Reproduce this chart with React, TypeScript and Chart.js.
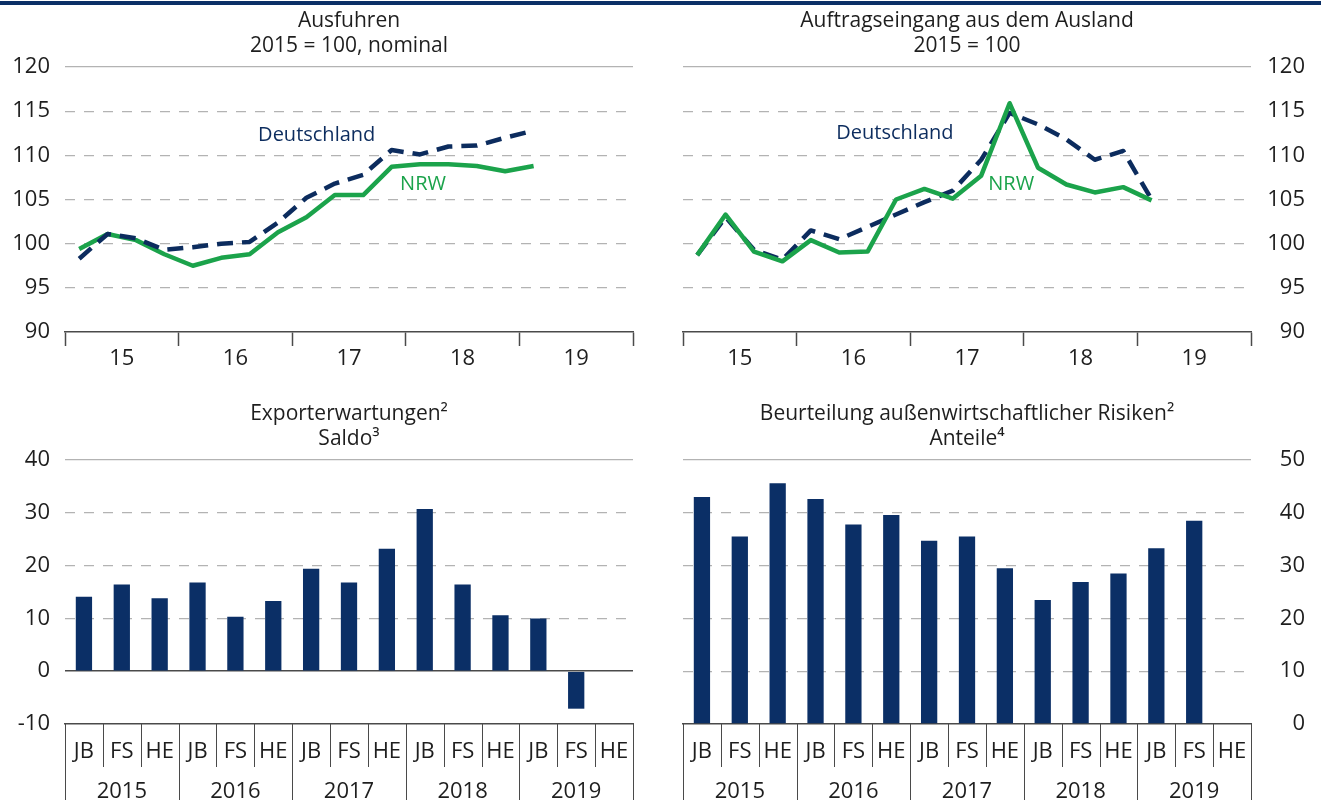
import React, { useEffect, useRef } from 'react';
import { Chart, registerables } from 'chart.js';

Chart.register(...registerables);

// ---------- data ----------
const quarters = [
  '2015 Q1', '2015 Q2', '2015 Q3', '2015 Q4',
  '2016 Q1', '2016 Q2', '2016 Q3', '2016 Q4',
  '2017 Q1', '2017 Q2', '2017 Q3', '2017 Q4',
  '2018 Q1', '2018 Q2', '2018 Q3', '2018 Q4',
  '2019 Q1',
];
const yearTicks = ['15', '16', '17', '18', '19'];

const ausfuhrenDE = [98.3, 101.1, 100.6, 99.3, 99.6, 100.0, 100.2, 102.4, 105.2, 106.8, 107.8, 110.6, 110.1, 111.0, 111.1, 112.0, 112.8];
const ausfuhrenNRW = [99.4, 101.1, 100.4, 98.8, 97.5, 98.4, 98.8, 101.3, 103.0, 105.5, 105.5, 108.7, 109.0, 109.0, 108.8, 108.2, 108.8];

const auftragDE = [98.7, 103.0, 99.3, 98.2, 101.5, 100.5, 101.9, 103.3, 104.7, 106.0, 109.5, 114.8, 113.5, 111.8, 109.5, 110.5, 105.0];
const auftragNRW = [98.7, 103.3, 99.1, 98.0, 100.4, 99.0, 99.1, 105.0, 106.2, 105.1, 107.7, 115.9, 108.6, 106.7, 105.8, 106.4, 104.9];

const halfYears = ['JB', 'FS', 'HE'];
const years = ['2015', '2016', '2017', '2018', '2019'];
const exportErwartungen = [14.1, 16.4, 13.8, 16.8, 10.3, 13.3, 19.4, 16.8, 23.2, 30.7, 16.4, 10.6, 10.0, -7.1, null];
const risiken = [43.0, 35.5, 45.6, 42.6, 37.8, 39.6, 34.7, 35.5, 29.5, 23.5, 26.9, 28.5, 33.3, 38.5, null];

// ---------- styles ----------
const FONT = "'Open Sans', 'DejaVu Sans', sans-serif";
const NAVY = '#0b2f66';
const LINE_NAVY = '#0c2c5e';
const GREEN = '#1ba34b';
const GRID = '#b3b3b3';
const AXIS = '#4a4a4a';
const TEXT = '#1e1e1e';
const DASH = [10, 9];

function titlePlugin(lines: string[], ys: number[]) {
  return {
    id: 'panelTitle',
    afterDraw(chart: any) {
      const { ctx, chartArea } = chart;
      ctx.save();
      ctx.font = `21px ${FONT}`;
      ctx.fillStyle = TEXT;
      ctx.textAlign = 'center';
      ctx.textBaseline = 'middle';
      const cx = (chartArea.left + chartArea.right) / 2;
      lines.forEach((l, i) => ctx.fillText(l, cx, ys[i]));
      ctx.restore();
    },
  };
}

function seriesLabelPlugin(items: { text: string; x: number; y: number; color: string }[]) {
  return {
    id: 'seriesLabels',
    afterDatasetsDraw(chart: any) {
      const { ctx, scales } = chart;
      ctx.save();
      ctx.font = `20px ${FONT}`;
      ctx.textAlign = 'left';
      ctx.textBaseline = 'middle';
      items.forEach((it) => {
        ctx.fillStyle = it.color;
        ctx.fillText(it.text, scales.x.getPixelForValue(it.x), scales.y.getPixelForValue(it.y));
      });
      ctx.restore();
    },
  };
}

const separatorPlugin = {
  id: 'separators',
  afterDraw(chart: any) {
    const { ctx, chartArea, scales, height } = chart;
    const xs = scales.x;
    const n = xs.getLabels().length;
    ctx.save();
    ctx.strokeStyle = AXIS;
    ctx.lineWidth = 1;
    for (let i = 0; i <= n; i++) {
      const px = Math.round(xs.getPixelForValue(i - 0.5)) + 0.5;
      ctx.beginPath();
      ctx.moveTo(px, chartArea.bottom);
      ctx.lineTo(px, i % 3 === 0 ? height : chartArea.bottom + 43);
      ctx.stroke();
    }
    ctx.restore();
  },
};

const tickFont = { family: FONT, size: 22 };

function lineConfig(de: number[], nrw: number[], side: 'left' | 'right', nrwOnTop: boolean, labels: any[]) {
  const deSet = {
    label: 'Deutschland',
    data: de.map((v, i) => ({ x: i + 0.5, y: v })),
    borderColor: LINE_NAVY,
    borderWidth: 4.5,
    borderDash: [16, 9],
    pointRadius: 0,
    tension: 0,
    borderJoinStyle: 'round',
  };
  const nrwSet = {
    label: 'NRW',
    data: nrw.map((v, i) => ({ x: i + 0.5, y: v })),
    borderColor: GREEN,
    borderWidth: 4.5,
    pointRadius: 0,
    tension: 0,
    borderJoinStyle: 'round',
  };
  const title = side === 'left' ? ['Ausfuhren', '2015 = 100, nominal'] : ['Auftragseingang aus dem Ausland', '2015 = 100'];
  return {
    type: 'line',
    data: { datasets: nrwOnTop ? [nrwSet, deSet] : [deSet, nrwSet] },
    options: {
      responsive: false,
      animation: false,
      layout: side === 'left'
        ? { padding: { top: 67, right: 27, left: 0, bottom: 0 } }
        : { padding: { top: 67, right: 16, left: 23, bottom: 0 } },
      plugins: { legend: { display: false }, tooltip: { enabled: false } },
      scales: {
        x: {
          type: 'linear',
          min: 0,
          max: 20,
          afterBuildTicks: (s: any) => {
            s.ticks = [0, 2, 4, 6, 8, 10, 12, 14, 16, 18, 20].map((v) => ({ value: v }));
          },
          afterFit: (s: any) => { s.height = 58; },
          ticks: {
            autoSkip: false,
            maxRotation: 0,
            padding: 0,
            font: tickFont,
            color: TEXT,
            callback: (v: number) => (v % 4 === 2 ? yearTicks[(v - 2) / 4] : ''),
          },
          grid: {
            display: true,
            drawOnChartArea: false,
            drawTicks: true,
            tickLength: 14,
            tickWidth: 1.5,
            tickColor: (c: any) => (c.tick && c.tick.value % 4 === 0 ? AXIS : 'rgba(0,0,0,0)'),
          },
          border: { display: true, color: AXIS, width: 1.5 },
        },
        y: {
          position: side,
          min: 90,
          max: 120,
          afterFit: (s: any) => { s.width = side === 'left' ? 65 : 54; },
          ticks: {
            stepSize: 5,
            font: tickFont,
            color: TEXT,
            padding: side === 'left' ? 15 : 16,
            crossAlign: side === 'left' ? 'near' : 'far',
          },
          grid: {
            drawTicks: false,
            lineWidth: 1.3,
            color: (c: any) => (c.tick && c.tick.value === 90 ? 'rgba(0,0,0,0)' : GRID),
          },
          border: {
            display: false,
            dash: (c: any) => (c.tick && c.tick.value < 120 ? DASH : []),
          },
        },
      },
    },
    plugins: [titlePlugin(title, [21, 46]), seriesLabelPlugin(labels)],
  };
}

function barConfig(values: (number | null)[], side: 'left' | 'right') {
  const labels: string[][] = [];
  years.forEach((y) => halfYears.forEach((h, j) => labels.push([h, j === 1 ? y : ''])));
  const isLeft = side === 'left';
  const min = isLeft ? -10 : 0;
  const max = isLeft ? 40 : 50;
  const title = isLeft ? ['Exporterwartungen²', 'Saldo³'] : ['Beurteilung außenwirtschaftlicher Risiken²', 'Anteile⁴'];
  return {
    type: 'bar',
    data: {
      labels,
      datasets: [{ data: values, backgroundColor: NAVY, categoryPercentage: 1, barPercentage: 0.43 }],
    },
    options: {
      responsive: false,
      animation: false,
      layout: isLeft
        ? { padding: { top: 70, right: 27, left: 0, bottom: 0 } }
        : { padding: { top: 70, right: 16, left: 23, bottom: 0 } },
      plugins: { legend: { display: false }, tooltip: { enabled: false } },
      scales: {
        x: {
          afterFit: (s: any) => { s.height = 76; },
          ticks: {
            autoSkip: false,
            maxRotation: 0,
            padding: 0,
            font: { family: FONT, size: 22, lineHeight: '40px' },
            color: TEXT,
          },
          grid: { display: false },
          border: { display: true, color: AXIS, width: 1.5 },
        },
        y: {
          position: side,
          min,
          max,
          afterFit: (s: any) => { s.width = isLeft ? 65 : 54; },
          ticks: {
            stepSize: 10,
            font: tickFont,
            color: TEXT,
            padding: isLeft ? 15 : 16,
            crossAlign: isLeft ? 'near' : 'far',
          },
          grid: {
            drawTicks: false,
            lineWidth: (c: any) => (c.tick && c.tick.value === 0 ? 1.5 : 1.3),
            color: (c: any) => {
              const v = c.tick ? c.tick.value : null;
              if (v === min) return 'rgba(0,0,0,0)';
              if (v === 0) return AXIS;
              return GRID;
            },
          },
          border: {
            display: false,
            dash: (c: any) => (c.tick && (c.tick.value === max || c.tick.value === 0) ? [] : DASH),
          },
        },
      },
    },
    plugins: [titlePlugin(title, [24, 49]), separatorPlugin],
  };
}

function Panel({ make, left, top, width, height }: any) {
  const ref = useRef<HTMLCanvasElement>(null);
  useEffect(() => {
    const chart = new Chart(ref.current as HTMLCanvasElement, make());
    return () => chart.destroy();
  }, []);
  return (
    <div style={{ position: 'absolute', left, top, width, height }}>
      <canvas ref={ref} width={width} height={height} style={{ width, height, display: 'block' }} />
    </div>
  );
}

export default function App() {
  return (
    <div style={{ position: 'fixed', left: 0, top: 0, width: 1321, height: 800, background: '#ffffff', overflow: 'hidden' }}>
      <div style={{ position: 'absolute', left: 0, top: 1, width: 1321, height: 4, background: NAVY }} />
      <Panel
        left={0} top={0} width={660} height={390}
        make={() => lineConfig(ausfuhrenDE, ausfuhrenNRW, 'left', false, [
          { text: 'Deutschland', x: 6.8, y: 112.3, color: LINE_NAVY },
          { text: 'NRW', x: 11.8, y: 106.7, color: GREEN },
        ])}
      />
      <Panel
        left={660} top={0} width={661} height={390}
        make={() => lineConfig(auftragDE, auftragNRW, 'right', true, [
          { text: 'Deutschland', x: 5.4, y: 112.5, color: LINE_NAVY },
          { text: 'NRW', x: 10.75, y: 106.7, color: GREEN },
        ])}
      />
      <Panel left={0} top={390} width={660} height={410} make={() => barConfig(exportErwartungen, 'left')} />
      <Panel left={660} top={390} width={661} height={410} make={() => barConfig(risiken, 'right')} />
    </div>
  );
}
